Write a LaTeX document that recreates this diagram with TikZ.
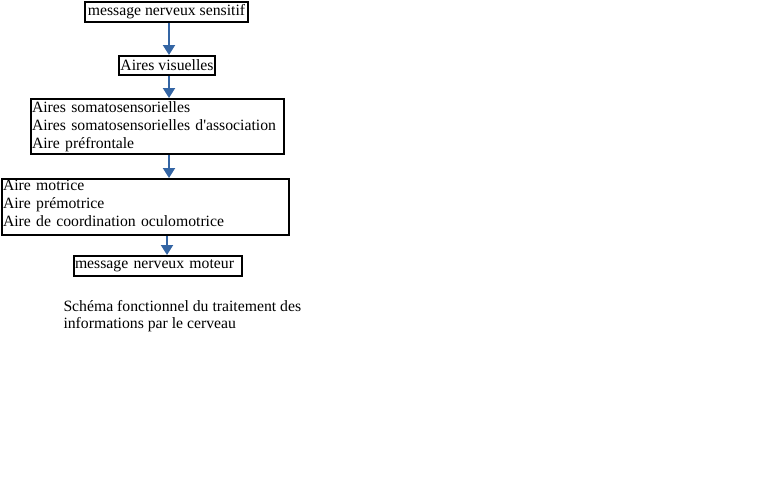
\documentclass[tikz,border=0pt]{standalone}
\usepackage{fontspec}
\setmainfont{Liberation Serif}[Ligatures=TeXOff]
\usetikzlibrary{arrows.meta}

\tikzset{every picture/.style={line width=0.75pt}}
\tikzset{
  boite/.style={draw, line width=1.5, anchor=north west, inner xsep=0.75pt, inner ysep=0pt, align=left, font=\fontsize{11.8}{13.5}\selectfont, execute at begin node={\hyphenpenalty=10000 }},
  fleche/.style={color={rgb, 255:red, 52; green, 101; blue, 164 }, line width=1.5, -{Triangle[width=9pt,length=7.5pt]}}
}

\begin{document}
\begin{tikzpicture}[x=0.75pt,y=0.75pt,yscale=-1,xscale=1]
    %set diagram left start at 0, and has height of 480
    \useasboundingbox (0,0) rectangle (768,480);

    % Text Node
    \node [boite, minimum width=122.25pt, minimum height=15pt] (sensitif) at (84,1) {message nerveux sensitif};
    % Text Node
    \node [boite, minimum width=72pt, minimum height=14.25pt] (visuelles) at (118,55) {Aires visuelles};
    % Text Node
    \node [boite, text width=188.25pt, minimum height=41.6pt] (somato) at (30,98) {Aires somatosensorielles\\Aires somatosensorielles d'association\\Aire préfrontale};
    % Text Node
    \node [boite, text width=213.75pt, inner ysep=0.5pt] (motrice) at (1,178) {Aire motrice\\Aire prémotrice\\Aire de coordination oculomotrice\rule[-6.2pt]{0pt}{6.2pt}};
    % Text Node
    \node [boite, text width=124.5pt, minimum height=15pt] (moteur) at (73,255) {message nerveux moteur};

    % Text Node
    \node [anchor=north west, inner sep=0pt, align=left, font=\fontsize{11.8}{13}\selectfont] (legende) at (63,300) {Schéma fonctionnel du traitement des\\informations par le cerveau};

    %Straight Lines
    \coordinate (axe1) at (169,0);
    \coordinate (axe2) at (167,0);
    \draw [fleche] (sensitif.south -| axe1) -- (visuelles.north -| axe1);
    \draw [fleche] (visuelles.south -| axe1) -- (somato.north -| axe1);
    \draw [fleche] (somato.south -| axe1) -- (motrice.north -| axe1);
    \draw [fleche] (motrice.south -| axe2) -- (moteur.north -| axe2);

\end{tikzpicture}
\end{document}
